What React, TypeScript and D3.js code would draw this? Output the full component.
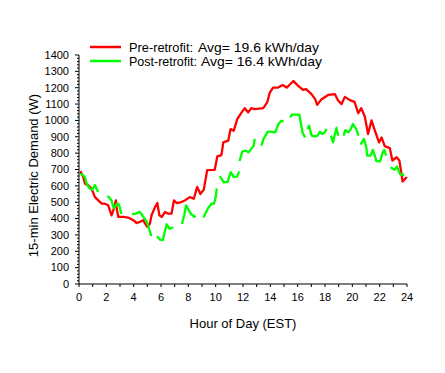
import * as d3 from 'd3';

// hour of day, watts
const preRetrofit: [number, number][] = [
  [0.1, 690], [0.32, 653], [0.44, 613], [0.68, 603], [0.92, 582], [1.17, 531],
  [1.41, 511], [1.66, 491], [1.89, 491], [2.14, 481], [2.26, 450], [2.38, 420],
  [2.51, 450], [2.7, 511], [2.76, 460], [2.88, 410], [3.25, 410], [3.6, 406],
  [3.97, 390], [4.22, 373], [4.47, 380], [4.71, 390], [4.83, 370], [5.0, 349],
  [5.19, 370], [5.31, 420], [5.56, 470], [5.73, 495], [5.88, 420], [6.06, 410],
  [6.29, 440], [6.52, 430], [6.77, 430], [6.95, 511], [7.15, 495], [7.5, 501],
  [7.75, 511], [8.1, 531], [8.4, 521], [8.65, 594], [8.88, 550], [9.13, 577],
  [9.38, 696], [9.93, 698], [10.12, 780], [10.42, 788], [10.56, 866], [10.92, 876],
  [11.09, 947], [11.32, 937], [11.58, 1008], [11.9, 1049], [12.13, 1075], [12.38, 1049],
  [12.61, 1075], [12.87, 1069], [13.48, 1075], [13.77, 1110], [13.96, 1170], [14.2, 1201],
  [14.57, 1201], [14.9, 1217], [15.2, 1201], [15.45, 1221], [15.69, 1241], [16.04, 1211],
  [16.39, 1187], [16.62, 1191], [17.01, 1161], [17.28, 1130], [17.43, 1095], [17.75, 1130],
  [18.23, 1156], [18.72, 1161], [18.97, 1120], [19.21, 1100], [19.45, 1144], [19.82, 1124],
  [20.16, 1113], [20.43, 1044], [20.65, 1075], [20.91, 1024], [21.15, 917], [21.4, 1000],
  [21.65, 937], [21.95, 866], [22.14, 896], [22.37, 843], [22.74, 831], [22.93, 755],
  [23.24, 775], [23.44, 755], [23.63, 653], [23.68, 626], [23.93, 650], [24.0, 645],
];

// null = missing data (gap in the line)
const postRetrofit: ([number, number] | null)[] = [
  [0.12, 674], [0.3, 665], [0.44, 653], [0.56, 613], [0.79, 582], [0.97, 576], [1.16, 605], [1.29, 582], [1.4, 562],
  null,
  [2.07, 537], [2.2, 530], [2.38, 511], [2.49, 475], [2.58, 465], [2.76, 488], [2.88, 491], [2.98, 470], [3.1, 428],
  null,
  [3.89, 428], [4.17, 430], [4.43, 442], [4.63, 420], [4.8, 400], [4.97, 379], [5.14, 335], [5.29, 293],
  null,
  [5.7, 292], [5.95, 270], [6.13, 268], [6.3, 329], [6.42, 365], [6.62, 338], [6.9, 347],
  null,
  [7.53, 367], [7.7, 420], [7.83, 481], [8.18, 430], [8.45, 410], [8.55, 414],
  null,
  [9.11, 407], [9.45, 465], [9.7, 491], [9.88, 491], [10.0, 531], [10.08, 585],
  null,
  [10.3, 660], [10.58, 623], [10.87, 623], [11.1, 684], [11.33, 653], [11.57, 656], [11.72, 689],
  null,
  [11.75, 752], [11.95, 810], [12.19, 815], [12.41, 805], [12.61, 826], [12.78, 846], [12.86, 887],
  null,
  [13.35, 846], [13.5, 887], [13.82, 932], [14.0, 932], [14.36, 927], [14.6, 978], [14.8, 998], [14.97, 993],
  null,
  [15.45, 1018], [15.57, 1035], [16.12, 1035], [16.25, 978], [16.35, 927], [16.54, 896],
  null,
  [16.73, 947], [16.83, 968], [17.02, 907], [17.26, 903], [17.45, 907], [17.62, 931], [17.8, 917], [17.99, 927], [18.11, 947],
  null,
  [18.43, 907], [18.6, 866], [18.72, 917], [18.84, 954], [18.97, 907],
  null,
  [19.36, 907], [19.48, 941], [19.71, 927], [19.88, 947], [20.04, 978], [20.28, 947], [20.46, 907],
  null,
  [20.6, 852], [20.85, 887], [21.02, 836], [21.09, 785], [21.33, 785], [21.5, 820], [21.67, 779], [21.75, 752],
  [22.04, 750], [22.22, 805], [22.34, 820], [22.47, 785],
  null,
  [22.8, 714], [23.08, 698], [23.27, 718], [23.38, 694], [23.51, 670], [23.8, 668],
];

const series = [
  { name: 'Pre-retrofit:', avg: 'Avg= 19.6 kWh/day', color: '#ff0000' },
  { name: 'Post-retrofit:', avg: 'Avg= 16.4 kWh/day', color: '#00ff00' },
];

const yTicks = d3.range(0, 1401, 100);
const yMinor = d3.range(0, 1401, 20);
const xTicks = d3.range(0, 25, 1);
const xLabels = d3.range(0, 25, 2);

const W = 445;
const H = 373;
const font = 'Arial, "Liberation Sans", sans-serif';

export default function App() {
  const x = d3.scaleLinear().domain([0, 24]).range([79, 407]);
  const y = d3.scaleLinear().domain([0, 1400]).range([284, 55]);

  const line = d3
    .line<[number, number] | null>()
    .defined((d) => d !== null)
    .x((d) => x(d![0]))
    .y((d) => y(d![1]));

  return (
    <svg
      width={W}
      height={H}
      viewBox={`0 0 ${W} ${H}`}
      style={{ position: 'absolute', left: 0, top: 0, background: '#fff' }}
      fontFamily={font}
    >
      {/* axes */}
      <line x1={x(0)} x2={x(0)} y1={y(0)} y2={y(1400)} stroke="#000" />
      <line x1={x(0)} x2={x(24)} y1={y(0)} y2={y(0)} stroke="#000" />
      {yMinor.map((t) => (
        <line key={'m' + t} x1={x(0) - (t % 100 === 0 ? 4 : 2)} x2={x(0)} y1={y(t)} y2={y(t)} stroke="#000" />
      ))}
      {yTicks.map((t) => (
        <text key={'y' + t} x={x(0) - 10} y={y(t)} dy="0.35em" textAnchor="end" fontSize={11}>
          {t}
        </text>
      ))}
      {xTicks.map((t) => (
        <line key={'x' + t} x1={x(t)} x2={x(t)} y1={y(0)} y2={y(0) + 3} stroke="#000" />
      ))}
      {xLabels.map((t) => (
        <text key={'xl' + t} x={x(t)} y={301} textAnchor="middle" fontSize={11}>
          {t}
        </text>
      ))}
      <text x={(x(0) + x(24)) / 2} y={328} textAnchor="middle" fontSize={13}>
        Hour of Day (EST)
      </text>
      <text
        transform={`translate(38,${(y(0) + y(1400)) / 2 + 6}) rotate(-90)`}
        textAnchor="middle"
        fontSize={13}
      >
        15-min Electric Demand (W)
      </text>

      {/* data */}
      <path d={line(preRetrofit) ?? ''} fill="none" stroke={series[0].color} strokeWidth={2.3} strokeLinejoin="round" />
      <path d={line(postRetrofit) ?? ''} fill="none" stroke={series[1].color} strokeWidth={2.3} strokeLinejoin="round" />

      {/* legend */}
      {series.map((s, i) => (
        <g key={s.name} transform={`translate(0,${47 + i * 14})`}>
          <line x1={90} x2={121} y1={0} y2={0} stroke={s.color} strokeWidth={2.5} />
          <text x={129} y={4.5} fontSize={13} textLength={i === 0 ? 64 : 68} lengthAdjust="spacingAndGlyphs">
            {s.name}
          </text>
          <text x={i === 0 ? 198 : 201} y={4.5} fontSize={13.5} textLength={121} lengthAdjust="spacingAndGlyphs">
            {s.avg}
          </text>
        </g>
      ))}
    </svg>
  );
}
